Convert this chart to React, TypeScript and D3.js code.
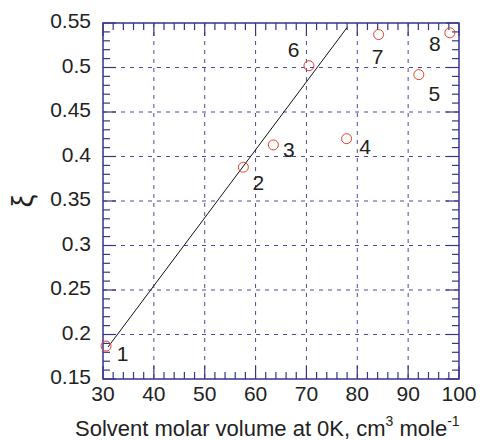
import React from 'react';
import * as d3 from 'd3';

// ---- data ----
const pointLabels = ['1', '2', '3', '4', '5', '6', '7', '8'];
const molarVolume = [30.6, 57.6, 63.5, 77.9, 92.1, 70.5, 84.2, 98.2];
const xiValues = [0.187, 0.388, 0.413, 0.42, 0.492, 0.502, 0.537, 0.539];
const fitX = [31, 78];
const fitY = [0.186, 0.545];
const xMajorTicks = [30, 40, 50, 60, 70, 80, 90, 100];
const yMajorTicks = [0.15, 0.2, 0.25, 0.3, 0.35, 0.4, 0.45, 0.5, 0.55];
const yTickLabels = ['0.15', '0.2', '0.25', '0.3', '0.35', '0.4', '0.45', '0.5', '0.55'];

// ---- layout ----
const W = 480, H = 440;
const L = 103, R = 459, T = 23, B = 379;
const labelOffsets: [number, number][] = [
  [16.5, 7.5], [15, 15.5], [15.5, 5], [18.5, 8.5], [15.5, 19.5], [-15.5, -15.5], [-1, 22], [-15, 11],
];
const FRAME = '#35358a';
const GRID = '#4a4aa6';
const FONT = 'Liberation Sans, Arial, sans-serif';
const FS = 21;
const TFS = 22;

export default function App() {
  const x = d3.scaleLinear().domain([30, 100]).range([L, R]);
  const y = d3.scaleLinear().domain([0.15, 0.55]).range([B, T]);
  const xMinor = d3.range(30, 100.001, 2);
  const yMinor = d3.range(0, 41).map((i) => 0.15 + i * 0.01);
  const line = d3.line<number>().x((_, i) => x(fitX[i])).y((v) => y(v));
  const minLen = 7, majLen = 13;

  return (
    <svg width={W} height={H} style={{ position: 'absolute', left: 0, top: 0, background: '#fff' }}>
      {/* grid */}
      {xMajorTicks.slice(1, -1).map((v) => (
        <line key={'gx' + v} x1={x(v)} x2={x(v)} y1={T} y2={B} stroke={GRID} strokeWidth={1} strokeDasharray="4,5" />
      ))}
      {yMajorTicks.slice(1, -1).map((v) => (
        <line key={'gy' + v} x1={L} x2={R} y1={y(v)} y2={y(v)} stroke={GRID} strokeWidth={1} strokeDasharray="4,5" />
      ))}
      {/* ticks */}
      {xMinor.map((v) => {
        const major = Math.abs(v % 10) < 1e-6;
        const len = major ? majLen : minLen;
        return (
          <g key={'tx' + v}>
            <line x1={x(v)} x2={x(v)} y1={B} y2={B - len} stroke={FRAME} strokeWidth={1.2} />
            <line x1={x(v)} x2={x(v)} y1={T} y2={T + len} stroke={FRAME} strokeWidth={1.2} />
          </g>
        );
      })}
      {yMinor.map((v, i) => {
        const major = i % 5 === 0;
        const len = major ? majLen : minLen;
        return (
          <g key={'ty' + i}>
            <line x1={L} x2={L + len} y1={y(v)} y2={y(v)} stroke={FRAME} strokeWidth={1.2} />
            <line x1={R} x2={R - len} y1={y(v)} y2={y(v)} stroke={FRAME} strokeWidth={1.2} />
          </g>
        );
      })}
      {/* frame */}
      <rect x={L} y={T} width={R - L} height={B - T} fill="none" stroke={FRAME} strokeWidth={1.5} />
      {/* fit line */}
      <path d={line(fitY) || ''} fill="none" stroke="#111" strokeWidth={1} />
      {/* points */}
      {molarVolume.map((v, i) => (
        <circle key={'p' + i} cx={x(v)} cy={y(xiValues[i])} r={5} fill="none" stroke="#e2412c" strokeWidth={1} />
      ))}
      {molarVolume.map((v, i) => (
        <text key={'l' + i} x={x(v) + labelOffsets[i][0]} y={y(xiValues[i]) + labelOffsets[i][1] + 7}
          textAnchor="middle" fontFamily={FONT} fontSize={FS} fill="#222">{pointLabels[i]}</text>
      ))}
      {/* tick labels */}
      {xMajorTicks.map((v) => (
        <text key={'xl' + v} x={x(v)} y={B + 22} textAnchor="middle" fontFamily={FONT} fontSize={FS} fill="#222">{v}</text>
      ))}
      {yMajorTicks.map((v, i) => (
        <text key={'yl' + i} x={L - 12} y={y(v) + 5} textAnchor="end" fontFamily={FONT} fontSize={FS} fill="#222">{yTickLabels[i]}</text>
      ))}
      {/* axis titles */}
      <text x={75} y={436} fontFamily={FONT} fontSize={TFS} fill="#222">
        Solvent molar volume at 0K, cm<tspan dy={-10} fontSize={14}>3</tspan><tspan dy={10} fontSize={TFS}> mole</tspan><tspan dy={-10} fontSize={14}>-1</tspan>
      </text>
      <text transform="translate(33,201) rotate(-90)" textAnchor="middle" fontFamily={FONT} fontSize={29} fill="#222">ξ</text>
    </svg>
  );
}
